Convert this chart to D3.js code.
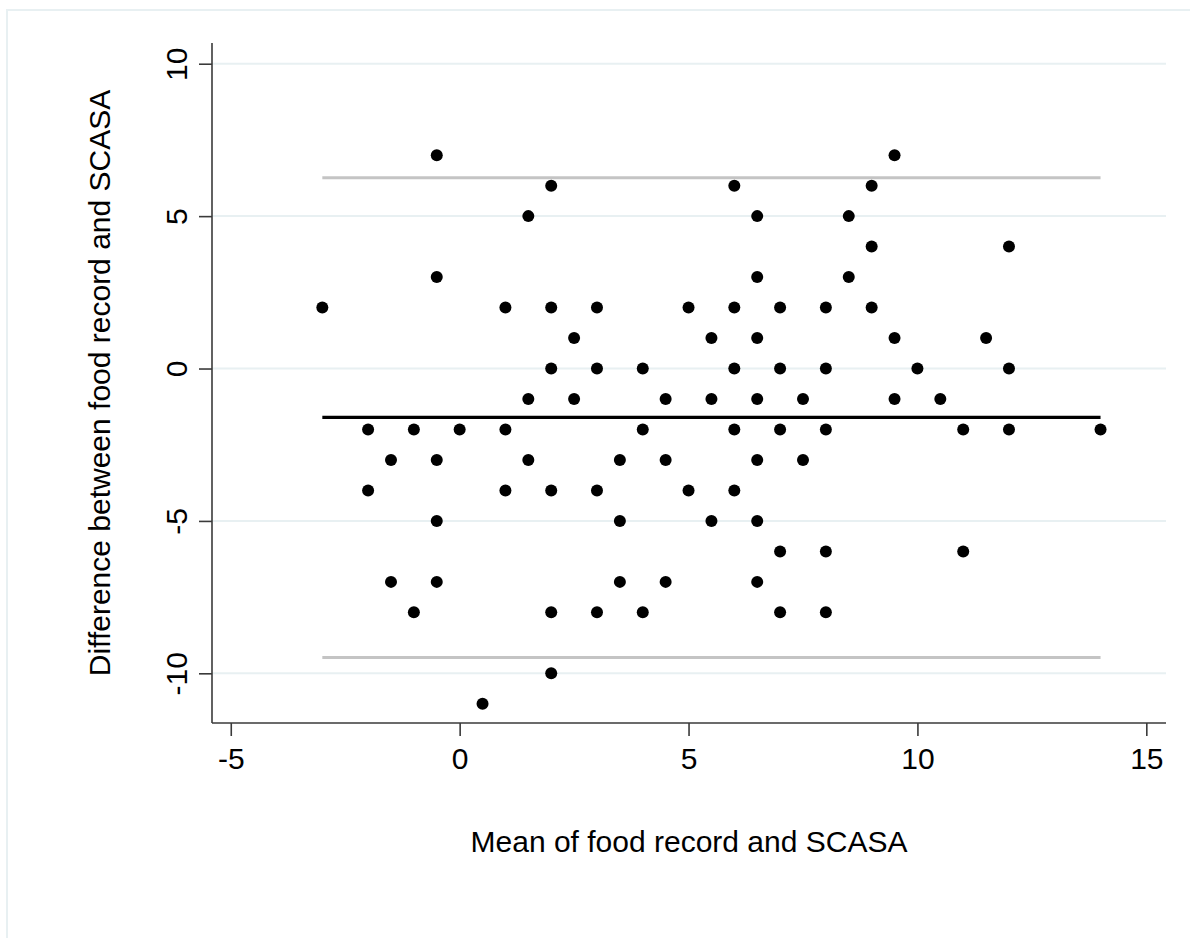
<!DOCTYPE html>
<html>
<head>
<meta charset="utf-8">
<script src="https://cdn.jsdelivr.net/npm/d3@7"></script>
<style>
  body { margin: 0; background: #fff; }
  text { font-family: "Liberation Sans", Arial, sans-serif; fill: #000; }
</style>
</head>
<body>
<svg id="chart" width="1190" height="938"></svg>
<script>
// Bland-Altman : moyenne (x) et différence (y) entre carnet alimentaire et SCASA
const meanVals = [-0.5, 9.5,
  2, 6, 9,
  1.5, 6.5, 8.5,
  9, 12,
  -0.5, 6.5, 8.5,
  -3, 1, 2, 3, 5, 6, 7, 8, 9,
  2.5, 5.5, 6.5, 9.5, 11.5,
  2, 3, 4, 6, 7, 8, 10, 12,
  1.5, 2.5, 4.5, 5.5, 6.5, 7.5, 9.5, 10.5,
  -2, -1, 0, 1, 4, 6, 7, 8, 11, 12, 14,
  -1.5, -0.5, 1.5, 3.5, 4.5, 6.5, 7.5,
  -2, 1, 2, 3, 5, 6,
  -0.5, 3.5, 5.5, 6.5,
  7, 8, 11,
  -1.5, -0.5, 3.5, 4.5, 6.5,
  -1, 2, 3, 4, 7, 8,
  2,
  0.5];
const diffVals = [7, 7,
  6, 6, 6,
  5, 5, 5,
  4, 4,
  3, 3, 3,
  2, 2, 2, 2, 2, 2, 2, 2, 2,
  1, 1, 1, 1, 1,
  0, 0, 0, 0, 0, 0, 0, 0,
  -1, -1, -1, -1, -1, -1, -1, -1,
  -2, -2, -2, -2, -2, -2, -2, -2, -2, -2, -2,
  -3, -3, -3, -3, -3, -3, -3,
  -4, -4, -4, -4, -4, -4,
  -5, -5, -5, -5,
  -6, -6, -6,
  -7, -7, -7, -7, -7,
  -8, -8, -8, -8, -8, -8,
  -10,
  -11];

const meanDiff = -1.6;
const upperLimit = 6.26;
const lowerLimit = -9.48;
const xTicks = [-5, 0, 5, 10, 15];
const yTicks = [-10, -5, 0, 5, 10];
const xTitle = "Mean of food record and SCASA";
const yTitle = "Difference between food record and SCASA";

const svg = d3.select("#chart");
const pLeft = 212, pRight = 1166, pTop = 43, pBottom = 723;
const fontSize = 30;

const x = d3.scaleLinear().domain([-5.41, 15.43]).range([pLeft, pRight]);
const y = d3.scaleLinear().domain([-11.63, 10.68]).range([pBottom, pTop]);

// cadre extérieur (seuls les bords haut et gauche sont visibles)
svg.append("rect")
  .attr("x", 7).attr("y", 10).attr("width", 1200).attr("height", 950)
  .attr("fill", "none").attr("stroke", "#e8f0f2").attr("stroke-width", 2);

// lignes de grille horizontales
svg.append("g").selectAll("line").data(yTicks).join("line")
  .attr("x1", pLeft).attr("x2", pRight)
  .attr("y1", d => y(d)).attr("y2", d => y(d))
  .attr("stroke", "#e8f0f2").attr("stroke-width", 2);

const xMin = d3.min(meanVals), xMax = d3.max(meanVals);

// limites d'agrément
svg.append("g").selectAll("line").data([upperLimit, lowerLimit]).join("line")
  .attr("x1", x(xMin)).attr("x2", x(xMax))
  .attr("y1", d => y(d)).attr("y2", d => y(d))
  .attr("stroke", "#c4c4c4").attr("stroke-width", 3);

// points
svg.append("g").selectAll("circle").data(meanVals).join("circle")
  .attr("cx", d => x(d))
  .attr("cy", (d, i) => y(diffVals[i]))
  .attr("r", 6)
  .attr("fill", "#000");

// différence moyenne
svg.append("line")
  .attr("x1", x(xMin)).attr("x2", x(xMax))
  .attr("y1", y(meanDiff)).attr("y2", y(meanDiff))
  .attr("stroke", "#000").attr("stroke-width", 3.2);

// axes (trait d'union simple pour les négatifs, comme Stata)
const fmt = d => String(d);
const xAxis = svg.append("g").attr("transform", "translate(0," + pBottom + ")")
  .call(d3.axisBottom(x).tickValues(xTicks).tickSize(13).tickPadding(12).tickFormat(fmt));
const yAxis = svg.append("g").attr("transform", "translate(" + pLeft + ",0)")
  .call(d3.axisLeft(y).tickValues(yTicks).tickSize(13).tickPadding(12).tickFormat(fmt));

[xAxis, yAxis].forEach(g => {
  g.select(".domain").attr("stroke", "#3a3a3a").attr("stroke-width", 1.6);
  g.selectAll(".tick line").attr("stroke", "#3a3a3a").attr("stroke-width", 1.6);
  g.selectAll(".tick text").style("font-family", "'Liberation Sans', Arial, sans-serif")
    .attr("font-size", fontSize).attr("fill", "#000");
});
xAxis.select(".domain").attr("d", "M" + pLeft + ",0H" + pRight);
yAxis.select(".domain").attr("d", "M0," + pTop + "V" + pBottom);

// étiquettes de l'axe y tournées
yAxis.selectAll(".tick text")
  .attr("x", null).attr("dy", null)
  .attr("text-anchor", "middle")
  .attr("transform", "translate(-25,0) rotate(-90)");

svg.append("text")
  .attr("x", (pLeft + pRight) / 2).attr("y", 852)
  .attr("text-anchor", "middle").attr("font-size", fontSize)
  .text(xTitle);

svg.append("text")
  .attr("transform", "translate(110," + ((pTop + pBottom) / 2) + ") rotate(-90)")
  .attr("text-anchor", "middle").attr("font-size", fontSize)
  .text(yTitle);
</script>
</body>
</html>
